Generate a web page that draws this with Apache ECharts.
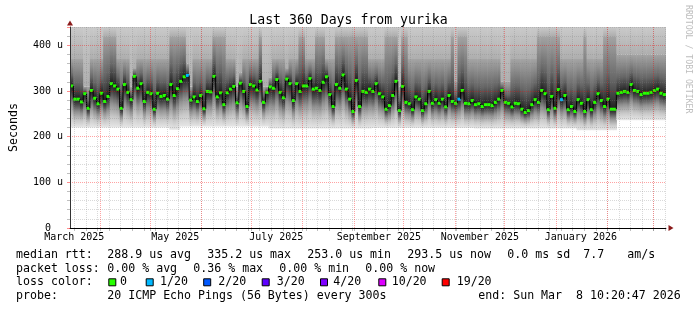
<!DOCTYPE html>
<html>
<head>
<meta charset="utf-8">
<script src="https://cdn.jsdelivr.net/npm/echarts@6/dist/echarts.min.js"></script>
<style>html,body{margin:0;padding:0;background:#fff}#chart{width:697px;height:310px}</style>
</head>
<body>
<div id="chart"></div>
<script>
// ---------------- data ----------------
const titleText = 'Last 360 Days from yurika';
const startTime = Date.UTC(2025, 2, 13, 10, 20, 47);
const endTime = Date.UTC(2026, 2, 8, 10, 20, 47);
const stepDays = 2;

// median RTT (microseconds), one value per 2-day step
const median = [
  311, 282, 282, 276, 294, 262, 301, 284, 272, 295,
  277, 288, 316, 311, 304, 262, 314, 297, 281, 332,
  306, 316, 277, 297, 294, 260, 295, 288, 290, 282,
  314, 290, 305, 321, 331, 334, 280, 287, 277, 290,
  261, 299, 298, 332, 287, 296, 270, 296, 304, 310,
  274, 317, 299, 266, 314, 311, 302, 321, 275, 297,
  309, 306, 325, 297, 285, 326, 316, 279, 316, 299,
  311, 311, 327, 304, 306, 301, 319, 331, 292, 266,
  314, 306, 335, 304, 282, 255, 323, 266, 299, 297,
  304, 299, 316, 294, 287, 260, 268, 290, 321, 257,
  310, 275, 272, 259, 287, 282, 257, 272, 299, 273,
  281, 273, 282, 265, 290, 277, 273, 282, 301, 273,
  272, 279, 270, 272, 266, 270, 270, 268, 275, 282,
  301, 275, 273, 265, 273, 272, 260, 253, 257, 270,
  281, 275, 301, 294, 259, 288, 262, 303, 281, 290,
  259, 266, 255, 281, 273, 255, 281, 259, 275, 294,
  279, 266, 282, 260, 260, 295, 297, 299, 297, 314,
  301, 299, 292, 295, 295, 297, 301, 304, 295, 292
];

// lower edge of the smoke (slowest-to-fastest ping spread)
const smokeLow = [
  220, 220, 220, 220, 220, 220, 220, 220, 220, 220,
  220, 220, 220, 220, 220, 220, 220, 220, 220, 220,
  220, 220, 220, 220, 220, 220, 220, 220, 220, 220,
  215, 215, 215, 222, 222, 222, 222, 222, 222, 222,
  222, 222, 222, 222, 222, 222, 222, 222, 222, 222,
  222, 222, 222, 222, 222, 222, 222, 222, 222, 222,
  218, 218, 218, 218, 218, 218, 218, 218, 218, 218,
  218, 218, 218, 218, 218, 218, 218, 218, 218, 218,
  218, 218, 218, 218, 218, 218, 218, 218, 218, 218,
  218, 219, 219, 219, 219, 219, 219, 219, 219, 219,
  219, 219, 219, 219, 219, 219, 219, 219, 219, 219,
  219, 219, 219, 219, 219, 219, 219, 219, 219, 219,
  219, 219, 218, 218, 218, 218, 218, 218, 218, 218,
  218, 218, 218, 218, 218, 218, 218, 218, 218, 218,
  218, 218, 218, 218, 218, 218, 218, 218, 218, 218,
  218, 218, 218, 214, 214, 214, 214, 214, 214, 214,
  214, 214, 214, 214, 214, 236, 236, 236, 236, 236,
  236, 236, 236, 236, 236, 236, 236, 236, 236, 236
];

// upper edge of the dense smoke
const smokeHigh = [
  370, 370, 370, 370, 310, 310, 370, 370, 370, 370,
  420, 420, 420, 420, 370, 370, 370, 370, 310, 350,
  370, 370, 370, 370, 370, 370, 370, 370, 370, 370,
  420, 420, 420, 420, 420, 360, 310, 370, 370, 370,
  370, 370, 370, 420, 420, 420, 420, 370, 370, 370,
  310, 340, 370, 370, 370, 370, 370, 420, 310, 310,
  330, 370, 370, 370, 370, 350, 370, 370, 370, 420,
  420, 370, 370, 370, 420, 420, 420, 370, 370, 370,
  420, 420, 420, 420, 420, 420, 420, 420, 420, 420,
  370, 370, 370, 370, 370, 420, 420, 420, 420, 310,
  420, 420, 370, 370, 370, 370, 370, 370, 370, 370,
  370, 370, 370, 370, 370, 420, 320, 420, 420, 420,
  370, 370, 370, 370, 370, 370, 370, 370, 370, 370,
  320, 320, 320, 370, 370, 370, 370, 370, 370, 370,
  370, 420, 420, 420, 420, 420, 420, 420, 370, 370,
  370, 370, 370, 370, 370, 420, 370, 370, 370, 370,
  370, 420, 420, 420, 420, 380, 380, 380, 380, 380,
  380, 380, 380, 380, 380, 380, 380, 380, 380, 380
];

// steps that had packet loss, and how many of 20 pings were lost
const lossIndex = [35, 117, 148];
const lossCount = [1, 1, 1];

// grid / tick dates
const monthStarts = ['2025-04-01','2025-05-01','2025-06-01','2025-07-01','2025-08-01','2025-09-01',
                     '2025-10-01','2025-11-01','2025-12-01','2026-01-01','2026-02-01','2026-03-01'];
const monthLabelDates = ['2025-03-16','2025-05-16','2025-07-16','2025-09-16','2025-11-16','2026-01-16'];
const monthNames = ['January','February','March','April','May','June','July','August','September','October','November','December'];
const firstWeekLine = '2025-03-16';
const yMax = 440;
const yMajorTicks = [100, 200, 300, 400];
const yMinorStep = 20;

// legend texts
const rttLabel = 'median rtt:';
const rttStats = ['288.9 us avg', '335.2 us max', '253.0 us min', '293.5 us now', '0.0 ms sd', '7.7', 'am/s'];
const lossLabel = 'packet loss:';
const lossStats = ['0.00 % avg', '0.36 % max', '0.00 % min', '0.00 % now'];
const colorLabel = 'loss color:';
const lossLevels = [0, 1, 2, 3, 4, 10, 19];
const lossLevelLabels = ['0', '1/20', '2/20', '3/20', '4/20', '10/20', '19/20'];
const probeLabel = 'probe:';
const probeText = '20 ICMP Echo Pings (56 Bytes) every 300s';
const endText = 'end: Sun Mar  8 10:20:47 2026';
const watermark = 'RRDTOOL / TOBI OETIKER';

// ---------------- styles ----------------
const lossColors = ['#26ff00', '#00b8ff', '#0059ff', '#5e00ff', '#7e00ff', '#dd00ff', '#ff0000'];
const MONO = '"DejaVu Sans Mono", monospace';
const lowStops = [[0, '#e6e6e6'], [0.25, '#c8c8c8'], [0.55, '#909090'], [0.8, '#4c4c4c'], [1, '#1c1c1c']];
const midStops = [[0, '#1c1c1c'], [0.12, '#363636'], [0.4, '#666666'], [0.75, '#8c8c8c'], [1, '#a4a4a4']];
const topStops = [[0, '#aeaeae'], [1, '#cacaca']];
const minorGridStyle = { color: 'rgba(128,128,128,0.3)', type: [1, 1], width: 1 };
const majorGridStyle = { color: 'rgba(255,0,0,0.36)', type: [1, 1], width: 1 };

// ---------------- build ----------------
const DAY = 86400000;
const toMs = s => Date.parse(s + 'T00:00:00Z');
const lossByIndex = {};
lossIndex.forEach((k, j) => { lossByIndex[k] = lossCount[j]; });

const smokeData = median.map((m, i) => {
  const x0 = startTime + i * stepDays * DAY;
  return [x0, Math.min(x0 + stepDays * DAY, endTime), smokeLow[i], m, smokeHigh[i]];
});
const medianData = median.map((m, i) => {
  const x0 = startTime + i * stepDays * DAY;
  return [x0, Math.min(x0 + stepDays * DAY, endTime), m, i > 0 ? median[i - 1] : m, lossByIndex[i] || 0];
});

const monthMs = monthStarts.map(toMs);
const weekMs = [];
for (let t = toMs(firstWeekLine); t < endTime; t += 7 * DAY) weekMs.push(t);
const labelMs = monthLabelDates.map(toMs);

function grad(stops) {
  return new echarts.graphic.LinearGradient(0, 1, 0, 0, stops.map(s => ({ offset: s[0], color: s[1] })));
}
function lossColor(n) {
  let c = lossColors[0];
  lossLevels.forEach((lv, k) => { if (n >= lv) c = lossColors[k]; });
  return c;
}

const gridLines = [];
weekMs.forEach(v => gridLines.push({ xAxis: v, lineStyle: minorGridStyle }));
for (let v = yMinorStep; v <= yMax; v += yMinorStep) {
  if (yMajorTicks.indexOf(v) < 0) gridLines.push({ yAxis: v, lineStyle: minorGridStyle });
}
monthMs.forEach(v => gridLines.push({ xAxis: v, lineStyle: majorGridStyle }));
yMajorTicks.forEach(v => gridLines.push({ yAxis: v, lineStyle: majorGridStyle }));
gridLines.push({ yAxis: 0, lineStyle: { color: '#000', type: 'solid', width: 1 } });
gridLines.push({ xAxis: startTime, lineStyle: { color: '#333', type: 'solid', width: 1 } });

// legend graphics
const LF = '11.6px ' + MONO;
const graphics = [];
function txt(text, x, y, extra) {
  graphics.push(Object.assign({
    type: 'text', x: x, y: y, silent: true,
    style: { text: text, font: LF, fill: '#000', textVerticalAlign: 'middle', verticalAlign: 'middle' }
  }, extra || {}));
}
const rowY = [255, 268.5, 282.3, 296];
txt(rttLabel, 16, rowY[0]);
const rttX = [107.3, 207.3, 307.3, 407.3, 507.3, 583.3, 627.3];
rttStats.forEach((s, k) => txt(s, rttX[k], rowY[0]));
txt(lossLabel, 16, rowY[1]);
const lossX = [107.3, 193.3, 279.3, 365.3];
lossStats.forEach((s, k) => txt(s, lossX[k], rowY[1]));
txt(colorLabel, 16, rowY[2]);
const boxX = [108.3, 145.7, 203.2, 261.7, 320.0, 378.3, 441.7];
const boxLabelX = [120.0, 160.0, 218.3, 276.7, 333.3, 391.7, 456.7];
lossLevelLabels.forEach((s, k) => {
  graphics.push({ type: 'rect', silent: true,
    shape: { x: boxX[k] + 0.5, y: rowY[2] - 3.5, width: 7, height: 7 },
    style: { fill: lossColors[k], stroke: '#000', lineWidth: 1 } });
  txt(s, boxLabelX[k], rowY[2]);
});
txt(probeLabel, 16, rowY[3]);
txt(probeText, 107.3, rowY[3]);
txt(endText, 478.3, rowY[3]);
graphics.push({
  type: 'text', x: 688, y: 5, rotation: -Math.PI / 2, silent: true,
  style: { text: watermark, font: '8.2px ' + MONO, fill: '#bdbdbd', textVerticalAlign: 'middle', verticalAlign: 'middle' }
});

const chart = echarts.init(document.getElementById('chart'), null, { renderer: 'canvas' });
chart.setOption({
  animation: false,
  backgroundColor: '#fff',
  title: {
    text: titleText, left: 'center', top: 9,
    textStyle: { fontFamily: MONO, fontSize: 13.2, fontWeight: 'normal', color: '#000' }
  },
  grid: { left: 66, top: 27, width: 600, height: 201, containLabel: false },
  xAxis: {
    type: 'value', min: startTime, max: endTime,
    splitLine: { show: false },
    axisLine: { show: true, lineStyle: { color: '#8b1a1a', width: 1 }, symbol: ['none', 'triangle'], symbolSize: [6, 5], symbolOffset: [0, 5] },
    axisTick: { show: true, customValues: weekMs.concat(monthMs), length: 3, lineStyle: { color: 'rgba(128,128,128,0.5)' } },
    axisLabel: {
      customValues: labelMs, margin: 4, color: '#000', fontFamily: MONO, fontSize: 10,
      formatter: v => { const d = new Date(v); return monthNames[d.getUTCMonth()] + ' ' + d.getUTCFullYear(); }
    }
  },
  yAxis: {
    type: 'value', min: 0, max: yMax, interval: 100,
    name: 'Seconds', nameLocation: 'middle', nameGap: 50,
    nameTextStyle: { fontFamily: MONO, fontSize: 11.6, color: '#000' },
    splitLine: { show: false },
    axisLine: { show: true, lineStyle: { color: '#8b1a1a', width: 1 }, symbol: ['none', 'triangle'], symbolSize: [6, 5], symbolOffset: [0, 4] },
    axisTick: { show: true, length: 3, lineStyle: { color: 'rgba(255,0,0,0.45)' } },
    minorTick: { show: true, splitNumber: 5, length: 3, lineStyle: { color: 'rgba(128,128,128,0.5)' } },
    axisLabel: {
      margin: 7, color: '#000', fontFamily: MONO, fontSize: 10,
      formatter: v => v === 0 ? '0  ' : (v % 100 === 0 ? v + ' u' : '')
    }
  },
  graphic: graphics,
  series: [
    {
      type: 'custom', z: 2, clip: true, silent: true,
      encode: { x: [0, 1], y: [2, 3, 4] },
      data: smokeData,
      renderItem: (params, api) => {
        const x0 = api.value(0), x1 = api.value(1), lo = api.value(2), md = api.value(3), hi = api.value(4);
        const a = api.coord([x0, lo]), b = api.coord([x1, md]), c = api.coord([x0, hi]), t = api.coord([x0, yMax]);
        const xl = a[0], w = b[0] - a[0] + 0.6;
        return { type: 'group', children: [
          { type: 'rect', shape: { x: xl, y: b[1], width: w, height: a[1] - b[1] }, style: { fill: grad(lowStops) } },
          { type: 'rect', shape: { x: xl, y: c[1], width: w, height: b[1] - c[1] }, style: { fill: grad(midStops) } },
          { type: 'rect', shape: { x: xl, y: t[1], width: w, height: c[1] - t[1] }, style: { fill: grad(topStops) } }
        ] };
      }
    },
    {
      type: 'line', z: 3, data: [], silent: true,
      markLine: { silent: true, symbol: ['none', 'none'], label: { show: false }, animation: false, data: gridLines }
    },
    {
      type: 'custom', z: 4, clip: true, silent: true,
      encode: { x: [0, 1], y: [2, 3] },
      data: medianData,
      renderItem: (params, api) => {
        const x0 = api.value(0), x1 = api.value(1), m = api.value(2), pm = api.value(3), loss = api.value(4);
        const p = api.coord([x0, m]), q = api.coord([x1, m]), pp = api.coord([x0, pm]);
        return { type: 'group', children: [
          { type: 'line', shape: { x1: p[0], y1: pp[1], x2: p[0], y2: p[1] }, style: { stroke: '#000', lineWidth: 1 } },
          { type: 'rect', shape: { x: p[0], y: p[1] - 1.5, width: q[0] - p[0], height: 3 }, style: { fill: lossColor(loss) } }
        ] };
      }
    }
  ]
});
</script>
</body>
</html>
